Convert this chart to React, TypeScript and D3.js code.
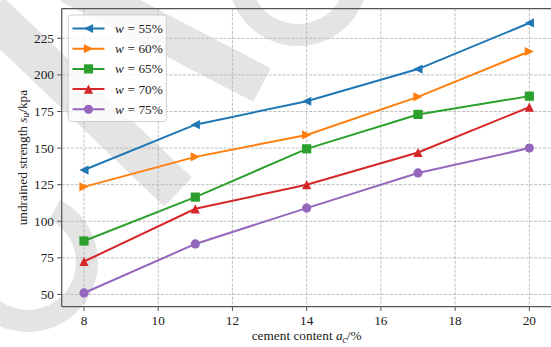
import React from "react";
import * as d3 from "d3";

const cement = [8, 11, 14, 17, 20];
const w55 = [135, 166, 182, 204, 235.5];
const w60 = [123.5, 144, 159, 185, 216];
const w65 = [86.5, 116.5, 149.5, 173, 185.5];
const w70 = [72.5, 108.5, 125, 147, 178];
const w75 = [51, 84.5, 109, 133, 150];
const seriesNames = ["55%", "60%", "65%", "70%", "75%"];
const xTicks = [8, 10, 12, 14, 16, 18, 20];
const yTicks = [50, 75, 100, 125, 150, 175, 200, 225];

const colors = ["#1f77b4", "#ff7f0e", "#2ca02c", "#d62728", "#9467bd"];
const markers = ["tl", "tr", "sq", "tu", "ci"];

const W = 551;
const H = 347;
const L = 61.7, R = 551.6, T = 8.7, B = 306.5;
const FONT = "'Liberation Serif', 'Times New Roman', serif";

function Marker({ kind, x, y, color }: { kind: string; x: number; y: number; color: string }) {
  const s = 4.6;
  if (kind === "ci") return <circle cx={x} cy={y} r={s} fill={color} />;
  if (kind === "sq") return <rect x={x - s} y={y - s} width={2 * s} height={2 * s} fill={color} />;
  let pts: [number, number][] = [];
  if (kind === "tl") pts = [[-s, 0], [s, -s], [s, s]];
  if (kind === "tr") pts = [[s, 0], [-s, -s], [-s, s]];
  if (kind === "tu") pts = [[0, -s], [-s, s], [s, s]];
  return <polygon points={pts.map(([a, b]) => `${x + a},${y + b}`).join(" ")} fill={color} />;
}

function band(x1: number, y1: number, x2: number, y2: number, w: number) {
  const dx = x2 - x1, dy = y2 - y1;
  const len = Math.hypot(dx, dy);
  const nx = (-dy / len) * (w / 2), ny = (dx / len) * (w / 2);
  return `M${x1 + nx},${y1 + ny}L${x2 + nx},${y2 + ny}L${x2 - nx},${y2 - ny}L${x1 - nx},${y1 - ny}Z`;
}

export default function App() {
  const x = d3.scaleLinear().domain([7.4, 20.6]).range([L, R]);
  const y = d3.scaleLinear().domain([41.75, 245.25]).range([B, T]);
  const data = [w55, w60, w65, w70, w75];
  const line = d3
    .line<number>()
    .x((_, i) => x(cement[i]))
    .y((d) => y(d));

  const legX = 68.3, legY = 15, legW = 98, legH = 106.5;
  const rowY = (i: number) => 28.5 + i * 20.2;
  const arc1 = d3.arc()({ innerRadius: 48, outerRadius: 70, startAngle: Math.PI * 0.15, endAngle: Math.PI * 1.55 }) || "";
  const arc2 = d3.arc()({ innerRadius: 48, outerRadius: 70, startAngle: Math.PI * 0.5, endAngle: Math.PI * 1.5 }) || "";

  return (
    <svg
      width={W}
      height={H}
      style={{ position: "absolute", left: 0, top: 0, background: "#fff" }}
      fontFamily={FONT}
    >
      <rect x={0} y={0} width={W} height={H} fill="#fff" />
      {/* watermark */}
      <g fill="#e4e4e4">
        <path d={band(-10, 12, 178, 192, 40)} />
        <path d={band(70, -15, 262, 85, 38)} />
        <path d={arc1} transform="translate(28,262)" />
        <path d={arc2} transform="translate(298,-24)" />
      </g>
      {/* grid */}
      <g stroke="#b0b0b0" strokeWidth={0.8} strokeDasharray="3,1.5">
        {xTicks.map((t) => (
          <line key={"gx" + t} x1={x(t)} x2={x(t)} y1={T} y2={B} />
        ))}
        {yTicks.map((t) => (
          <line key={"gy" + t} x1={L} x2={R} y1={y(t)} y2={y(t)} />
        ))}
      </g>
      {/* lines */}
      {data.map((d, si) => (
        <g key={"s" + si}>
          <path d={line(d) || ""} fill="none" stroke={colors[si]} strokeWidth={2} />
          {d.map((v, i) => (
            <Marker key={i} kind={markers[si]} x={x(cement[i])} y={y(v)} color={colors[si]} />
          ))}
        </g>
      ))}
      {/* spines */}
      <g stroke="#555" strokeWidth={1.25} fill="none">
        <line x1={L} x2={L} y1={T} y2={B} />
        <line x1={L} x2={R} y1={B} y2={B} />
        <line x1={L} x2={R} y1={T} y2={T} />
      </g>
      {/* ticks */}
      <g stroke="#555" strokeWidth={1}>
        {xTicks.map((t) => (
          <line key={"tx" + t} x1={x(t)} x2={x(t)} y1={B} y2={B + 4.5} />
        ))}
        {yTicks.map((t) => (
          <line key={"ty" + t} x1={L - 4.5} x2={L} y1={y(t)} y2={y(t)} />
        ))}
      </g>
      <g fontSize={13.3} fill="#222" fontFamily={FONT}>
        {xTicks.map((t) => (
          <text key={"lx" + t} x={x(t)} y={325} textAnchor="middle">
            {t}
          </text>
        ))}
        {yTicks.map((t) => (
          <text key={"ly" + t} x={54} y={y(t) + 4.5} textAnchor="end">
            {t}
          </text>
        ))}
      </g>
      {/* axis labels */}
      <text x={(L + R) / 2} y={340} textAnchor="middle" fontSize={13.3} fill="#222" fontFamily={FONT}>
        cement content <tspan fontStyle="italic">a</tspan>
        <tspan fontStyle="italic" fontSize={9.5} dy={2.5}>c</tspan>
        <tspan dy={-2.5}>/%</tspan>
      </text>
      <text
        transform={`translate(26.5,${(T + B) / 2}) rotate(-90)`}
        textAnchor="middle"
        fontSize={13.3}
        fill="#222"
        fontFamily={FONT}
      >
        undrained strength <tspan fontStyle="italic">s</tspan>
        <tspan fontStyle="italic" fontSize={9.5} dy={2.5}>u</tspan>
        <tspan dy={-2.5}>/kpa</tspan>
      </text>
      {/* legend */}
      <rect
        x={legX}
        y={legY}
        width={legW}
        height={legH}
        rx={3}
        fill="#fff"
        fillOpacity={0.8}
        stroke="#d0d0d0"
        strokeWidth={1}
      />
      {seriesNames.map((n, i) => (
        <g key={"leg" + i}>
          <line x1={72.5} x2={104.5} y1={rowY(i)} y2={rowY(i)} stroke={colors[i]} strokeWidth={2} />
          <Marker kind={markers[i]} x={88.5} y={rowY(i)} color={colors[i]} />
          <text x={115} y={rowY(i) + 4.5} fontSize={13.3} fill="#222" fontFamily={FONT}>
            <tspan fontStyle="italic" fontFamily={FONT}>w</tspan>
            <tspan dx={3.5} fontFamily={FONT}>=</tspan>
            <tspan dx={3.5} fontFamily={FONT}>{n}</tspan>
          </text>
        </g>
      ))}
    </svg>
  );
}
